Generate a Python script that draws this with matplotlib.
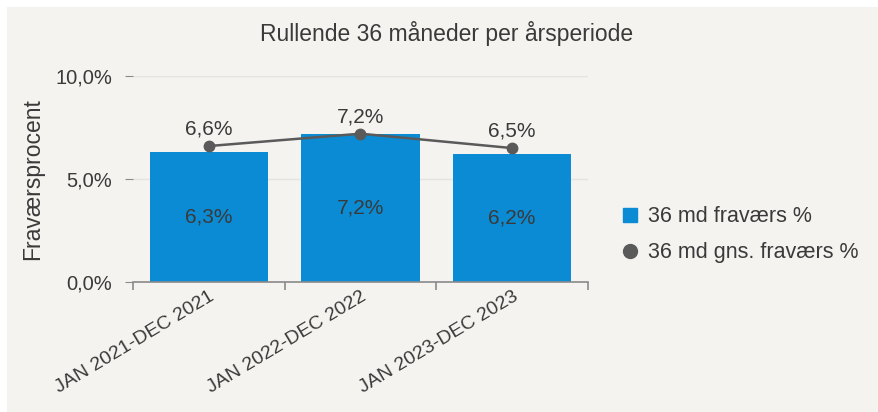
import matplotlib.pyplot as plt
from matplotlib.patches import Rectangle
from matplotlib.lines import Line2D
import numpy as np

periods = ["JAN 2021-DEC 2021", "JAN 2022-DEC 2022", "JAN 2023-DEC 2023"]
fravaer = [6.3, 7.2, 6.2]
gns_fravaer = [6.6, 7.2, 6.5]
yticks = [0, 5, 10]

plt.rcParams['font.family'] = ['Liberation Sans', 'DejaVu Sans']
txt = '#3a3a3a'
bg = '#f4f3f0'
blue = '#0a8bd3'
grey = '#5a5a5a'

fig = plt.figure(figsize=(8.79, 4.12), dpi=100)
fig.patch.set_facecolor('white')
fig.patches.append(Rectangle((7/879, 0), 1, 1 - 7/412, transform=fig.transFigure,
                             facecolor=bg, edgecolor='none', zorder=-10))

ax = fig.add_axes([133/879, 130/412, 455/879, 206/412])
ax.set_facecolor(bg)
x = np.arange(len(periods))

ax.bar(x, fravaer, width=0.78, color=blue, zorder=2)
ax.plot(x, gns_fravaer, color=grey, lw=1.8, marker='o', ms=7.5, zorder=3)

for xi, v in zip(x, fravaer):
    ax.text(xi, v / 2, f"{v:.1f}%".replace('.', ','), ha='center', va='center',
            fontsize=15, color=txt, zorder=4)
for xi, v in zip(x, gns_fravaer):
    ax.text(xi, v + 0.35, f"{v:.1f}%".replace('.', ','), ha='center', va='bottom',
            fontsize=15, color=txt, zorder=4)

ax.set_xlim(-0.5, len(periods) - 0.5)
ax.set_ylim(0, 10)
ax.set_yticks(yticks)
ax.set_yticklabels([f"{t:.1f}%".replace('.', ',') for t in yticks], fontsize=14.5, color=txt)
ax.yaxis.grid(True, color='#e4e3e0', lw=1, zorder=0)
ax.set_axisbelow(True)

ax.set_xticks(x)
ax.set_xticklabels(periods, rotation=31, ha='right', rotation_mode='anchor',
                   fontsize=14, color=txt)
ax.set_xticks(np.arange(-0.5, len(periods)), minor=True)
ax.tick_params(axis='x', which='major', length=0, pad=4)
ax.tick_params(axis='x', which='minor', length=6, color='#8a8a8a', width=1.2)
ax.tick_params(axis='y', length=6, color='#8a8a8a', pad=9)

for s in ['top', 'right', 'left']:
    ax.spines[s].set_visible(False)
ax.spines['bottom'].set_color('#8a8a8a')
ax.spines['bottom'].set_linewidth(1.2)

ax.set_ylabel('Fraværsprocent', fontsize=16.5, color=txt, labelpad=8)

fig.text(447/879, 1 - 33/412, 'Rullende 36 måneder per årsperiode', ha='center',
         va='center', fontsize=16.5, color=txt)

handles = [Line2D([], [], ls='none', marker='s', ms=10, color=blue),
           Line2D([], [], ls='none', marker='o', ms=10, color=grey)]
ax.legend(handles, ['36 md fraværs %', '36 md gns. fraværs %'], loc='center left',
          bbox_to_anchor=(1.06, 0.23), frameon=False, fontsize=15.5, labelcolor=txt,
          handlelength=0.6, handletextpad=0.5, labelspacing=0.7, borderaxespad=0)

fig.savefig('out.png', dpi=100, facecolor=fig.get_facecolor())
